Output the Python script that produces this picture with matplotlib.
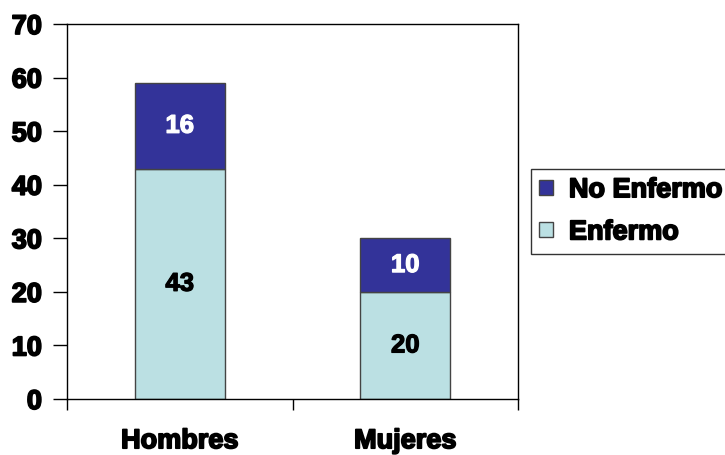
import matplotlib
matplotlib.use("Agg")
import matplotlib.pyplot as plt
from matplotlib.patches import Patch
import matplotlib.patheffects as pe

categories = ["Hombres", "Mujeres"]
enfermo = [43, 20]
no_enfermo = [16, 10]
yticks = [0, 10, 20, 30, 40, 50, 60, 70]

plt.rcParams["font.family"] = ["Liberation Sans", "DejaVu Sans"]
plt.rcParams["font.weight"] = "bold"

c_no = "#333399"
c_si = "#BBE0E3"
edge = "#444444"


def heavy(color, lw=1.1):
    return [pe.withStroke(linewidth=lw, foreground=color)]


fig = plt.figure(figsize=(7.25, 4.56), dpi=100)
ax = fig.add_axes([67 / 725, 56 / 456, 451 / 725, 375 / 456])

x = list(range(len(categories)))
w = 0.40
ax.bar(x, enfermo, width=w, color=c_si, edgecolor=edge, linewidth=1.0, zorder=2)
ax.bar(x, no_enfermo, width=w, bottom=enfermo, color=c_no, edgecolor=edge, linewidth=1.0, zorder=2)

for i in x:
    ax.text(i, enfermo[i] / 2, str(enfermo[i]), ha="center", va="center",
            fontsize=18.5, fontweight="bold", color="black", path_effects=heavy("black", 0.9))
    ax.text(i, enfermo[i] + no_enfermo[i] / 2, str(no_enfermo[i]), ha="center", va="center",
            fontsize=18.5, fontweight="bold", color="white", path_effects=heavy("white", 0.9))

ax.set_xlim(-0.5, 1.5)
ax.set_ylim(0, 70)
ax.set_yticks(yticks)
ax.set_yticklabels([str(v) for v in yticks], fontsize=19.5, fontweight="bold")
ax.tick_params(axis="y", direction="out", length=10, width=1, pad=8)

ax.set_xticks(x)
ax.set_xticklabels(categories, fontsize=19.5, fontweight="bold")
ax.tick_params(axis="x", which="major", length=0, pad=21)
ax.set_xticks([-0.5, 0.5, 1.5], minor=True)
ax.tick_params(axis="x", which="minor", direction="out", length=8, width=1)

for lab in ax.get_xticklabels() + ax.get_yticklabels():
    lab.set_path_effects(heavy("black", 1.3))

for s in ax.spines.values():
    s.set_linewidth(1.0)
    s.set_color("black")

handles = [Patch(facecolor=c_no, edgecolor=edge, label="No Enfermo"),
           Patch(facecolor=c_si, edgecolor=edge, label="Enfermo")]
leg = fig.legend(handles=handles, loc="upper left",
                 bbox_to_anchor=(531 / 725, 1 - 170 / 456),
                 frameon=True, fancybox=False, edgecolor="black",
                 prop={"size": 19.5, "weight": "bold"},
                 handlelength=0.5, handleheight=0.5, handletextpad=0.6,
                 labelspacing=0.6, borderpad=0.3, borderaxespad=0)
leg.get_frame().set_linewidth(1.0)
for t in leg.get_texts():
    t.set_path_effects(heavy("black", 1.3))

fig.savefig("out.png", dpi=100)
